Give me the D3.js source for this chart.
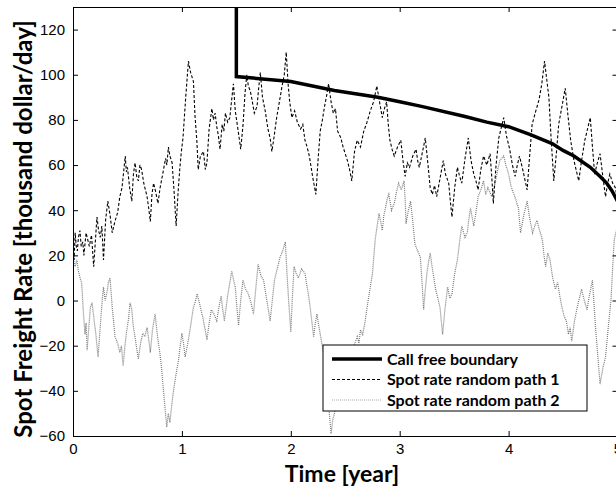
<!DOCTYPE html>
<html>
<head>
<meta charset="utf-8">
<script src="https://cdn.jsdelivr.net/npm/d3@7"></script>
<style>
  body { margin: 0; background: #fff; }
  .tick text { font-family: 'Liberation Sans', Arial, sans-serif; font-size: 15px; fill: #000; }
  .axis-label { font-family: Lato, 'Open Sans', sans-serif; font-weight: bold; font-size: 24px; fill: #000; }
  .legend text { font-family: Lato, 'Open Sans', sans-serif; font-weight: bold; font-size: 16px; fill: #000; }
</style>
</head>
<body>
<svg width="616" height="490"></svg>
<script>
const xTicks = [0, 1, 2, 3, 4, 5];
const yTicks = [-60, -40, -20, 0, 20, 40, 60, 80, 100, 120];
const legendLabels = ['Call free boundary', 'Spot rate random path 1', 'Spot rate random path 2'];

// call free boundary [time, rate]
const boundary = [
  [1.5, 135], [1.5, 99.2], [2, 97], [2.4, 93], [2.8, 90], [3, 88], [3.2, 86], [3.6, 81.5],
  [3.8, 79], [4, 77], [4.2, 73.5], [4.4, 69.5], [4.5, 66.5], [4.6, 64], [4.75, 59],
  [4.85, 54.5], [4.9, 52], [4.95, 48.5], [5, 44]
];

// spot rate random path 1 [time, rate]
const path1 = [
  [0,25],[0.01,18],[0.02,30],[0.03,24],[0.04,22],[0.05,28],[0.064,31],[0.075,24],[0.09,26],[0.1,20],
  [0.12,30],[0.135,27],[0.15,24],[0.17,29],[0.19,15],[0.205,26],[0.22,37],[0.235,31],[0.25,28],[0.265,33],
  [0.28,18],[0.3,36],[0.32,44],[0.34,38],[0.36,30],[0.385,35],[0.41,39],[0.43,46],[0.45,50],[0.465,57],
  [0.48,64],[0.49,57],[0.5,59],[0.52,50],[0.54,44],[0.555,56],[0.57,61],[0.585,55],[0.6,53],[0.615,60],
  [0.63,58],[0.65,52],[0.68,46],[0.695,41],[0.71,35],[0.725,47],[0.74,52],[0.76,48],[0.78,43],[0.8,50],
  [0.82,55],[0.835,59],[0.85,63],[0.862,60],[0.876,68],[0.89,64],[0.91,61],[0.93,47],[0.947,33],[0.965,48],
  [0.98,58],[0.995,66],[1.01,72],[1.035,90],[1.06,106],[1.08,101],[1.106,97],[1.12,82],[1.137,71],[1.15,58],
  [1.17,64],[1.198,66],[1.215,58],[1.23,61],[1.25,76],[1.275,85],[1.29,80],[1.305,83],[1.32,77],[1.335,73],
  [1.35,67],[1.37,78],[1.385,75],[1.4,83],[1.42,79],[1.44,81],[1.455,88],[1.473,96],[1.49,84],[1.505,79],
  [1.52,74],[1.54,67],[1.56,77],[1.58,92],[1.596,100],[1.61,95],[1.627,93],[1.64,90],[1.665,83],[1.69,86],
  [1.705,94],[1.72,101],[1.74,90],[1.765,84],[1.79,76],[1.81,72],[1.826,66],[1.845,72],[1.87,81],[1.895,88],
  [1.92,95],[1.94,100],[1.958,110],[1.975,96],[1.99,88],[2.01,81],[2.035,84],[2.06,79],[2.09,76],[2.11,78],
  [2.13,71],[2.15,68],[2.17,64],[2.2,55],[2.23,47],[2.25,62],[2.27,75],[2.29,80],[2.31,86],[2.33,91],
  [2.347,96],[2.37,88],[2.39,83],[2.41,85],[2.43,75],[2.46,72],[2.48,68],[2.5,65],[2.52,62],[2.54,58],
  [2.56,53],[2.585,66],[2.61,71],[2.64,68],[2.67,75],[2.7,79],[2.73,84],[2.76,88],[2.79,95],[2.815,88],
  [2.84,81],[2.86,85],[2.88,88],[2.895,78],[2.91,71],[2.93,67],[2.95,64],[2.98,68],[3.01,71],[3.03,62],
  [3.05,55],[3.07,61],[3.09,59],[3.12,64],[3.15,67],[3.165,62],[3.18,59],[3.21,66],[3.235,72],[3.26,60],
  [3.28,50],[3.3,47],[3.32,51],[3.34,46],[3.37,54],[3.4,62],[3.42,56],[3.45,52],[3.465,44],[3.48,37],
  [3.505,50],[3.53,59],[3.55,55],[3.57,52],[3.6,63],[3.63,72],[3.655,62],[3.68,56],[3.7,53],[3.72,49],
  [3.745,58],[3.77,64],[3.8,60],[3.83,65],[3.845,55],[3.86,43],[3.885,60],[3.91,72],[3.935,77],[3.955,81],
  [3.98,73],[4.01,67],[4.035,60],[4.06,55],[4.08,60],[4.1,64],[4.13,58],[4.17,49],[4.19,62],[4.216,78],
  [4.25,84],[4.28,89],[4.305,96],[4.33,106],[4.35,98],[4.37,90],[4.39,72],[4.415,53],[4.44,66],[4.46,78],
  [4.49,86],[4.52,94],[4.545,82],[4.57,71],[4.6,62],[4.644,53],[4.67,62],[4.7,71],[4.725,76],[4.75,81],
  [4.77,68],[4.79,56],[4.815,61],[4.84,65],[4.865,55],[4.89,46],[4.91,52],[4.93,56],[4.955,52],[4.98,50],[5,45]
];

// spot rate random path 2 [time, rate]
const path2 = [
  [0,21],[0.01,17],[0.02,15],[0.035,18],[0.05,13],[0.065,10],[0.08,7.5],[0.095,-5],[0.11,-15],[0.12,-10],
  [0.13,-22],[0.145,-12],[0.16,-3],[0.175,-1],[0.19,-7],[0.21,-15],[0.23,-25],[0.245,-15],[0.26,-5],[0.27,1],
  [0.28,6],[0.295,0],[0.31,3],[0.325,8],[0.34,10],[0.36,-3],[0.386,-16],[0.41,-19],[0.43,-23],[0.445,-20],
  [0.46,-29],[0.475,-21],[0.49,-14.5],[0.51,-8],[0.524,-1],[0.54,-4],[0.55,-10],[0.575,-18],[0.6,-26],[0.62,-19],
  [0.64,-14.5],[0.66,-16],[0.68,-12],[0.695,-17],[0.71,-23],[0.73,-13],[0.754,-6],[0.765,-11],[0.78,-17.5],[0.8,-24],
  [0.815,-31],[0.84,-45],[0.861,-56],[0.875,-50],[0.89,-54],[0.905,-47],[0.92,-41],[0.945,-33],[0.97,-26],[0.985,-20],
  [1.0,-14.5],[1.015,-19],[1.03,-25],[1.05,-20],[1.07,-14.5],[1.09,-8],[1.106,-3],[1.12,-1],[1.14,3],[1.165,-2],
  [1.19,-7],[1.21,-12],[1.23,-17.5],[1.25,-10],[1.27,-4],[1.295,-6],[1.32,-9],[1.34,-3],[1.36,2],[1.375,-4],
  [1.39,-9],[1.42,2],[1.44,8],[1.458,13],[1.475,9],[1.49,6],[1.505,-3],[1.52,-11],[1.54,0],[1.56,9],
  [1.585,5],[1.61,3],[1.635,-1],[1.657,-6],[1.68,6],[1.7,16],[1.725,11],[1.75,9],[1.78,0],[1.81,-9],
  [1.83,0],[1.85,9],[1.875,14],[1.9,19],[1.925,22],[1.95,26],[1.965,12],[1.98,0],[2.0,-14],[2.015,2],
  [2.03,15],[2.05,12],[2.07,10],[2.1,14],[2.13,12],[2.15,6],[2.17,0],[2.19,-8],[2.21,-16],[2.225,-10],
  [2.24,-6],[2.26,-12],[2.285,-19],[2.31,-26],[2.33,-35],[2.35,-48],[2.37,-59],[2.385,-53],[2.4,-50],[2.45,-40],
  [2.52,-30],[2.58,-20],[2.61,-16],[2.625,-19],[2.64,-13],[2.66,-15],[2.68,-10],[2.695,-5],[2.71,0],[2.73,6],
  [2.75,12],[2.775,27],[2.79,32],[2.81,38.5],[2.825,35],[2.84,31],[2.855,38],[2.87,41],[2.885,45],[2.9,47],
  [2.925,40],[2.95,43],[2.97,48],[2.99,52],[3.015,49],[3.04,53],[3.05,45],[3.058,34],[3.08,40],[3.1,44],
  [3.12,35],[3.14,25],[3.165,22],[3.19,19],[3.205,8],[3.22,-4],[3.235,5],[3.25,12],[3.265,17],[3.28,21],
  [3.3,14],[3.33,5],[3.35,1],[3.37,-3],[3.394,-15],[3.415,-4],[3.44,6],[3.46,1],[3.48,3],[3.505,12],
  [3.53,18],[3.55,26],[3.57,33],[3.6,28],[3.62,30],[3.635,36],[3.65,41],[3.665,37],[3.68,33],[3.7,39],
  [3.72,46],[3.745,49],[3.77,53],[3.79,47],[3.81,50],[3.845,46],[3.88,53],[3.9,58],[3.92,62],[3.955,64],
  [3.975,60],[4.0,56],[4.025,50],[4.05,47],[4.07,44],[4.09,41],[4.11,30],[4.14,38],[4.17,44],[4.195,36],
  [4.22,30],[4.24,33],[4.26,35.5],[4.285,31],[4.31,27],[4.325,20],[4.34,15],[4.36,21],[4.38,18],[4.405,10],
  [4.43,5],[4.45,8],[4.47,2],[4.49,-3],[4.51,-7],[4.53,-9],[4.55,-15],[4.565,-12],[4.58,-18],[4.605,-9],
  [4.63,-3],[4.65,1],[4.67,5],[4.695,0],[4.72,-4],[4.745,3],[4.77,9],[4.785,-2],[4.8,-13],[4.82,-25],
  [4.84,-37],[4.865,-30],[4.89,-25],[4.915,-12],[4.94,0],[4.955,14],[4.97,27],[5.0,33]
];

const svg = d3.select('svg');
const margin = {top: 7, left: 73, right: 617.5, bottom: 436};

const xScale = d3.scaleLinear().domain([0, 5]).range([margin.left, margin.right]);
const yScale = d3.scaleLinear().domain([-60, 130]).range([margin.bottom, margin.top]);

svg.append('clipPath').attr('id', 'plot-clip')
  .append('rect')
  .attr('x', margin.left).attr('y', margin.top)
  .attr('width', margin.right - margin.left).attr('height', margin.bottom - margin.top);

const line = d3.line().x(d => xScale(d[0])).y(d => yScale(d[1]));

const plot = svg.append('g').attr('clip-path', 'url(#plot-clip)');

plot.append('path')
  .attr('d', line(path2))
  .attr('fill', 'none')
  .attr('stroke', '#7a7a7a')
  .attr('stroke-width', 1.2)
  .attr('stroke-dasharray', '1,1');

plot.append('path')
  .attr('d', line(path1))
  .attr('fill', 'none')
  .attr('stroke', '#000')
  .attr('stroke-width', 1.1)
  .attr('stroke-dasharray', '3,2');

plot.append('path')
  .attr('d', line(boundary))
  .attr('fill', 'none')
  .attr('stroke', '#000')
  .attr('stroke-width', 3.5);

// axes, ticks pointing inward
const fmt = d3.format('d');
const xAxis = d3.axisBottom(xScale).tickValues(xTicks).tickFormat(fmt)
  .tickSizeInner(-5).tickSizeOuter(0).tickPadding(7);
const yAxis = d3.axisLeft(yScale).tickValues(yTicks).tickFormat(fmt)
  .tickSizeInner(-5).tickSizeOuter(0).tickPadding(8);

svg.append('g').attr('transform', `translate(0,${margin.bottom})`).call(xAxis);
svg.append('g').attr('transform', `translate(${margin.left},0)`).call(yAxis);

svg.append('g').attr('transform', `translate(0,${margin.top})`)
  .call(d3.axisTop(xScale).tickValues(xTicks).tickSizeInner(-5).tickSizeOuter(0).tickFormat(''));
svg.append('g').attr('transform', `translate(${margin.right},0)`)
  .call(d3.axisRight(yScale).tickValues(yTicks).tickSizeInner(-5).tickSizeOuter(0).tickFormat(''));

svg.selectAll('.domain').attr('stroke', '#000');
svg.selectAll('.tick line').attr('stroke', '#000');

svg.append('text')
  .attr('class', 'axis-label')
  .attr('x', 342)
  .attr('y', 482)
  .style('font-size', '23px')
  .attr('text-anchor', 'middle')
  .text('Time [year]');

svg.append('text')
  .attr('class', 'axis-label')
  .attr('transform', 'translate(32,229) rotate(-90)')
  .attr('text-anchor', 'middle')
  .text('Spot Freight Rate [thousand dollar/day]');

// legend
const legend = svg.append('g').attr('class', 'legend').attr('transform', 'translate(323,345)');
legend.append('rect')
  .attr('width', 264).attr('height', 66)
  .attr('fill', '#fff').attr('stroke', '#000').attr('stroke-width', 1);

const legendStyles = [
  {stroke: '#000', width: 3.5, dash: null},
  {stroke: '#000', width: 1, dash: '3,2'},
  {stroke: '#aaa', width: 1, dash: '1,1'}
];

legendLabels.forEach((label, i) => {
  const y = 14 + i * 20.5;
  const s = legendStyles[i];
  legend.append('line')
    .attr('x1', 9).attr('x2', 59).attr('y1', y).attr('y2', y)
    .attr('stroke', s.stroke).attr('stroke-width', s.width)
    .attr('stroke-dasharray', s.dash);
  legend.append('text')
    .attr('x', 64).attr('y', y + 5.5)
    .text(label);
});
</script>
</body>
</html>
